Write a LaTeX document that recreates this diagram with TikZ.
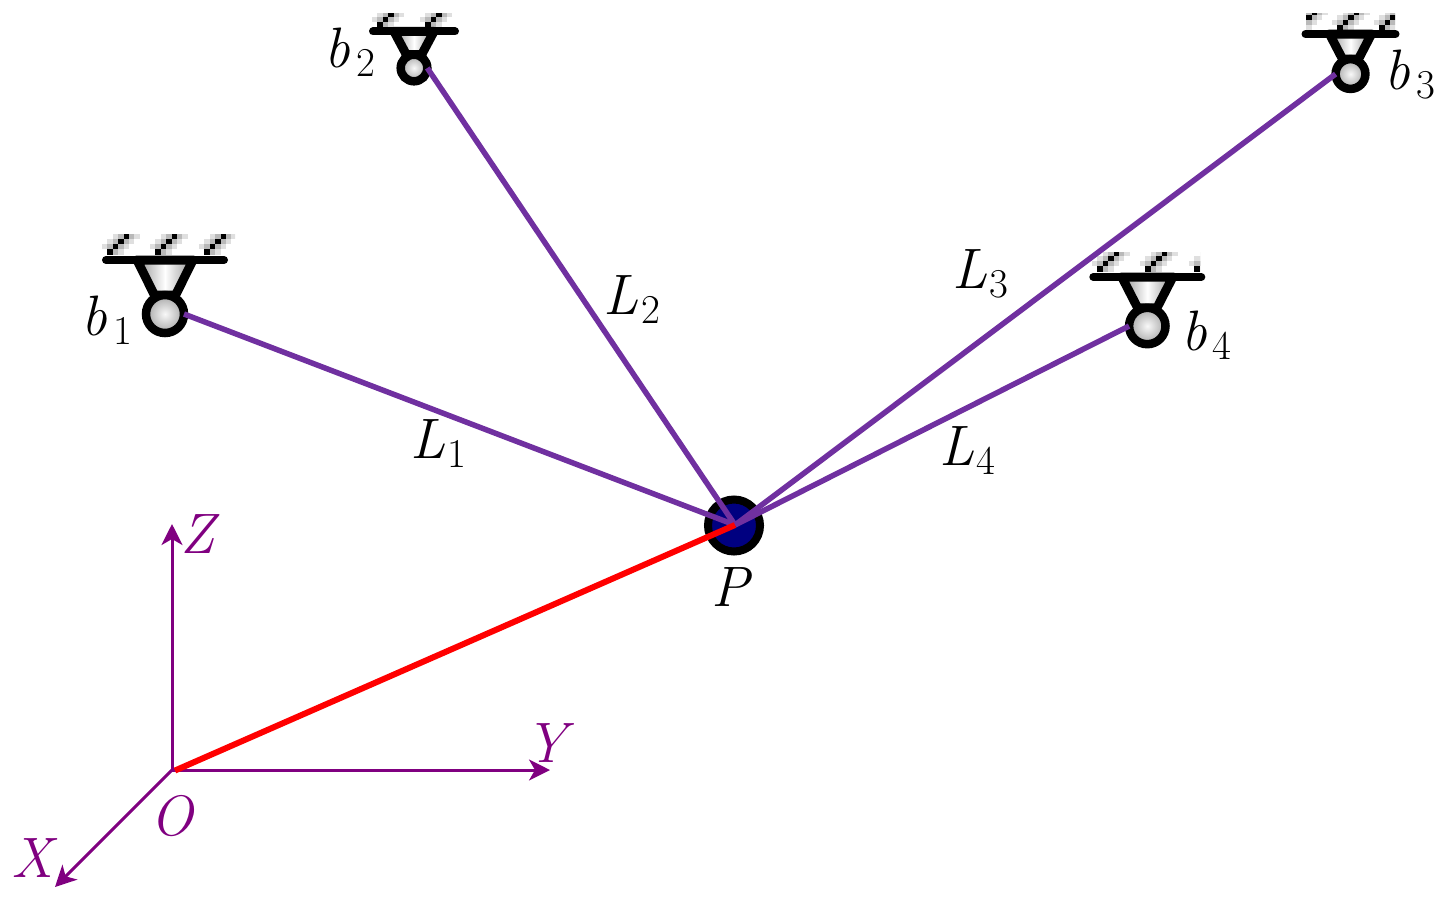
\documentclass[tikz,border=0pt]{standalone}
\usetikzlibrary{arrows.meta}
\definecolor{axispurple}{HTML}{800080}
\definecolor{linkpurple}{HTML}{7030A0}
\definecolor{pointblue}{HTML}{000080}
\definecolor{linkred}{HTML}{FF0000}
\newcommand{\hatchmark}[2]{%
  \foreach \i in {0,1,2,3}{%
    \fill[gray!25] ({#1+\i*5.4-2.7-5.4},{#2-(\i+1)*5.4-2.7}) rectangle +(10.8,5.4);
    \fill[gray!25] ({#1+(\i+1)*5.4-2.7},{#2-\i*5.4-2.7}) rectangle +(10.8,5.4);
  }%
  \foreach \i in {0,1,2,3}{%
    \fill[gray!55] ({#1+\i*5.4-2.7},{#2-(\i+1)*5.4-2.7}) rectangle +(5.4,5.4);
    \fill[gray!55] ({#1+(\i+1)*5.4-2.7},{#2-\i*5.4-2.7}) rectangle +(5.4,5.4);
  }%
  \foreach \i in {0,1,2,3}{%
    \fill[black] ({#1+\i*5.4-2.7},{#2-\i*5.4-2.7}) rectangle +(5.4,5.4);
  }%
}
% name, cx, cy, ring radius, plate offset, plate half width, cone top half
\newcommand{\mount}[7]{%
  \path[conefill] ({#2-#7},{#3-#5}) -- ({#2+#7},{#3-#5}) -- ({#2+0.38*#7},{#3-#4}) -- ({#2-0.38*#7},{#3-#4}) -- cycle;
  \draw[plate] ({#2-#6},{#3-#5}) -- ({#2+#6},{#3-#5});
  \node[ball, minimum size={2*#4}] (#1) at (#2,#3) {};
}
\newcommand{\sublabel}[6]{%
  \node[txt] (#1) at (#2,#3) {\textit{#4}};
  \node[subtxt] (#1s) at (#5,{#3+9}) {#6};
}
\tikzset{
  x=1pt,y=-1pt,
  txt/.style={inner sep=0pt,outer sep=0pt,anchor=base west,font=\fontsize{57}{57}\selectfont},
  subtxt/.style={inner sep=0pt,outer sep=0pt,anchor=base west,font=\fontsize{41}{41}\selectfont},
  axtxt/.style={txt,text=axispurple},
  ball/.style={circle,draw=black,line width=8.5pt,inner sep=0pt,outer sep=0pt,inner color=gray!5,outer color=gray!70},
  plate/.style={line width=8pt,line cap=round,draw=black},
  conefill/.style={draw=black,line width=9pt,line join=round,left color=gray!85,right color=gray!85,middle color=white},
  link/.style={line width=5.5pt,draw=linkpurple},
  radius line/.style={line width=6pt,draw=linkred},
  axisline/.style={line width=3pt,draw=axispurple,-{Stealth[length=21pt,width=21pt,inset=6pt]}},
}
\begin{document}
\begin{tikzpicture}
\useasboundingbox (0,0) rectangle (1447,903);
% hatching
\begin{scope}
  \clip (95,234) rectangle (235,262);
  \hatchmark{110}{252}\hatchmark{158}{252}\hatchmark{207}{252}
\end{scope}
\begin{scope}
  \clip (365,13) rectangle (460,35);
  \hatchmark{380}{25}\hatchmark{428}{25}
\end{scope}
\begin{scope}
  \clip (1306,13) rectangle (1395,40);
  \hatchmark{1298}{28}\hatchmark{1340}{28}\hatchmark{1382}{28}
\end{scope}
\begin{scope}
  \clip (1090,252) rectangle (1200,280);
  \hatchmark{1100}{269}\hatchmark{1148}{269}\hatchmark{1197}{269}
\end{scope}
% mounts
\mount{b1}{165}{314}{19}{54}{59}{28}
\mount{b2}{414}{68}{13.3}{36.6}{41}{20}
\mount{b3}{1350.5}{74}{14.9}{40}{45}{21}
\mount{b4}{1147.3}{326}{18.2}{49}{54}{25.5}
% point P
\node[circle,draw=black,line width=8pt,fill=pointblue,minimum size=52pt,inner sep=0pt,outer sep=0pt] (P) at (734,525.5) {};
\coordinate (Pc) at (735,525);
% axes
\coordinate (O) at (172,770);
\coordinate (Rs) at (175,770.5);
\coordinate (Zt) at (172,524);
\coordinate (Yt) at (550,770);
\coordinate (Xt) at (55,887);
\draw[axisline] (O) -- (Zt);
\draw[axisline] (O) -- (Yt);
\draw[axisline] (O) -- (Xt);
% links
\draw[link] (b1.east) -- (Pc);
\draw[link] (b2.east) -- (Pc);
\draw[link] (b3.west) -- (Pc);
\draw[link] (b4.west) -- (Pc);
\draw[radius line] (Rs) -- (Pc);
% labels
\sublabel{lb1}{81}{335}{b}{113}{1}
\sublabel{lb2}{324}{67}{b}{356}{2}
\sublabel{lb3}{1384}{89}{b}{1416}{3}
\sublabel{lb4}{1181}{350}{b}{1212}{4}
\sublabel{lL1}{410}{458}{L}{447}{1}
\sublabel{lL2}{603}{314}{L}{641}{2}
\sublabel{lL3}{952}{288}{L}{989}{3}
\sublabel{lL4}{939}{465}{L}{976}{4}
\node[txt] (lP) at (711,606) {\textit{P}};
\node[axtxt] (lZ) at (180,553) {\textit{Z}};
\node[axtxt] (lY) at (525,762) {\textit{Y}};
\node[axtxt] (lX) at (12,877) {\textit{X}};
\node[axtxt] (lO) at (150,835) {\textit{O}};
\end{tikzpicture}
\end{document}
